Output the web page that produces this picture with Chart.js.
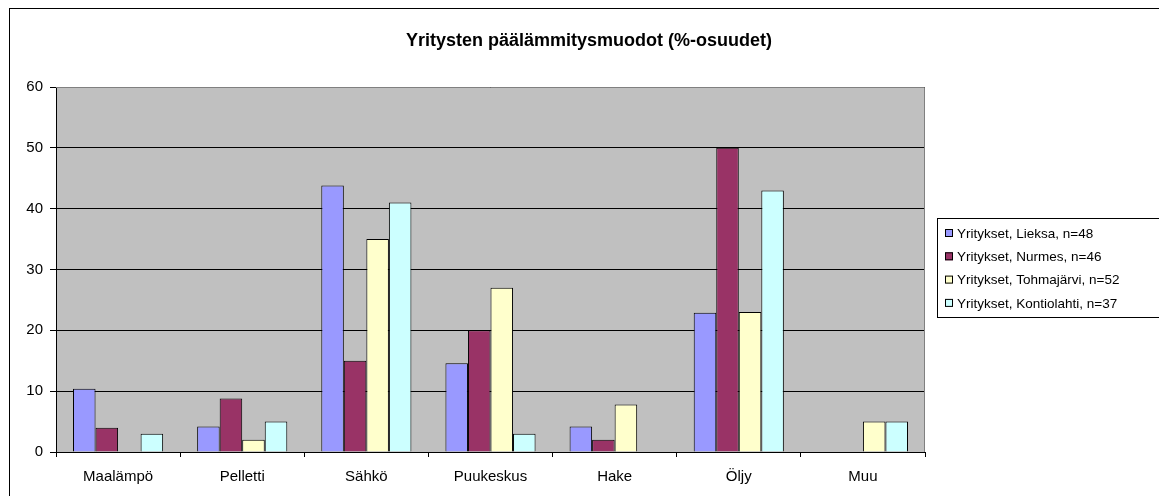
<!DOCTYPE html>
<html>
<head>
<meta charset="utf-8">
<script src="https://cdn.jsdelivr.net/npm/chart.js@4"></script>
<style>
  html, body { margin: 0; padding: 0; background: #fff; }
  #wrap { width: 1159px; height: 496px; position: relative; }
</style>
</head>
<body>
<div id="wrap"><canvas id="chart" width="1159" height="496"></canvas></div>
<script>
const title = 'Yritysten päälämmitysmuodot (%-osuudet)';
const categories = ['Maalämpö', 'Pelletti', 'Sähkö', 'Puukeskus', 'Hake', 'Öljy', 'Muu'];
const yTicks = [0, 10, 20, 30, 40, 50, 60];

const seriesNames = [
  'Yritykset, Lieksa, n=48',
  'Yritykset, Nurmes, n=46',
  'Yritykset, Tohmajärvi, n=52',
  'Yritykset, Kontiolahti, n=37'
];
const lieksa      = [10.4, 4.2, 43.8, 14.6, 4.2, 22.9, 0];
const nurmes      = [4.0, 8.8, 15.0, 20.0, 2.0, 50.0, 0];
const tohmajarvi  = [0, 2.0, 35.0, 27.0, 7.8, 23.0, 5.0];
const kontiolahti = [3.0, 5.0, 41.0, 3.0, 0, 43.0, 5.0];
const colors = ['#9999FF', '#993366', '#FFFFCC', '#CCFFFF'];

const FONT = '"Liberation Sans", Arial, sans-serif';

// gray plot background, outer frame and the title
const frame = {
  id: 'frame',
  beforeDraw(chart) {
    const { ctx, chartArea: a } = chart;
    ctx.save();
    ctx.fillStyle = '#C0C0C0';
    ctx.fillRect(a.left, a.top, a.right - a.left, a.bottom - a.top);
    ctx.strokeStyle = '#000';
    ctx.lineWidth = 1;
    ctx.strokeRect(9.5, 8.5, 1200, 600);
    ctx.fillStyle = '#000';
    ctx.font = 'bold 18px ' + FONT;
    ctx.textAlign = 'center';
    ctx.textBaseline = 'middle';
    ctx.fillText(title, 589, 41);
    ctx.restore();
  },
  afterDatasetsDraw(chart) {
    const { ctx, chartArea: a } = chart;
    ctx.save();
    ctx.strokeStyle = '#808080';
    ctx.lineWidth = 1;
    ctx.beginPath();
    ctx.moveTo(a.left, a.top + 0.5);
    ctx.lineTo(a.right - 0.5, a.top + 0.5);
    ctx.lineTo(a.right - 0.5, a.bottom);
    ctx.stroke();
    ctx.restore();
  }
};

// Excel style legend box on the right
const sideLegend = {
  id: 'sideLegend',
  afterDraw(chart) {
    const { ctx } = chart;
    const x = 937, y = 218, w = 240, h = 99;
    ctx.save();
    ctx.fillStyle = '#fff';
    ctx.fillRect(x, y, w, h);
    ctx.strokeStyle = '#000';
    ctx.lineWidth = 1;
    ctx.strokeRect(x + 0.5, y + 0.5, w, h);
    ctx.font = '13.5px ' + FONT;
    ctx.textBaseline = 'middle';
    chart.data.datasets.forEach((ds, i) => {
      const cy = y + 15 + i * 23.3;
      ctx.fillStyle = ds.backgroundColor;
      ctx.fillRect(x + 8, cy - 4, 8, 8);
      ctx.strokeStyle = '#000';
      ctx.strokeRect(x + 8.5, cy - 3.5, 7, 7);
      ctx.fillStyle = '#000';
      ctx.fillText(ds.label, x + 20, cy + 1);
    });
    ctx.restore();
  }
};

const allSeries = [lieksa, nurmes, tohmajarvi, kontiolahti];

new Chart(document.getElementById('chart'), {
  type: 'bar',
  data: {
    labels: categories,
    datasets: allSeries.map((data, i) => ({
      label: seriesNames[i],
      data,
      backgroundColor: colors[i],
      borderColor: '#000',
      borderWidth: 1,
      categoryPercentage: 0.726,
      barPercentage: 1
    }))
  },
  options: {
    responsive: false,
    animation: false,
    layout: { padding: { left: 0, top: 87, right: 234, bottom: 0 } },
    plugins: {
      legend: { display: false },
      tooltip: { enabled: false },
      title: { display: false }
    },
    scales: {
      x: {
        afterFit(s) { s.height = 44; },
        grid: { offset: true, drawOnChartArea: false, drawTicks: true, tickLength: 5, color: '#000' },
        border: { color: '#000', width: 1 },
        ticks: { color: '#000', font: { family: FONT, size: 15 }, padding: 11, maxRotation: 0 }
      },
      y: {
        min: 0,
        max: 60,
        afterFit(s) { s.width = 56; },
        afterBuildTicks(s) { s.ticks = yTicks.map(v => ({ value: v })); },
        grid: { color: '#000', tickLength: 6, drawTicks: true },
        border: { color: '#000', width: 1 },
        ticks: { color: '#000', font: { family: FONT, size: 15 }, padding: 7 }
      }
    }
  },
  plugins: [frame, sideLegend]
});
</script>
</body>
</html>
